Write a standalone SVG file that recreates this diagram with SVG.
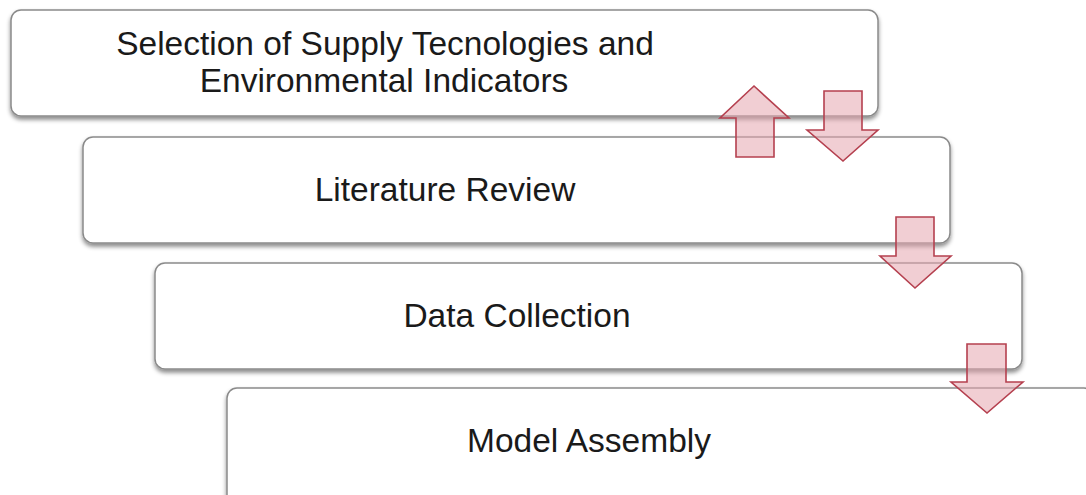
<svg xmlns="http://www.w3.org/2000/svg" width="1086" height="495" viewBox="0 0 1086 495">
  <style>
    .step { fill: #ffffff; stroke: #8a8a8a; stroke-width: 1.5; filter: url(#shadow); }
    .label { font-family: "Liberation Sans", Arial, sans-serif; font-size: 33.5px; fill: #1a1a1a; text-anchor: middle; }
    .arrow { fill: #e6a5ae; fill-opacity: 0.55; stroke: #b5404f; stroke-width: 1.6; stroke-linejoin: miter; }
  </style>
  <defs>
    <filter id="shadow" x="-5%" y="-10%" width="110%" height="130%">
      <feDropShadow dx="0" dy="3" stdDeviation="2.2" flood-color="#000000" flood-opacity="0.45"/>
    </filter>
  </defs>
  <rect width="1086" height="495" fill="#ffffff"/>

  <g id="node-selection">
    <rect class="step" x="11" y="10" width="867" height="106" rx="10"/>
    <text class="label" x="385" y="55">Selection of Supply Tecnologies and</text>
    <text class="label" x="384" y="92">Environmental Indicators</text>
  </g>

  <g id="node-literature">
    <rect class="step" x="83" y="137" width="867" height="106" rx="10"/>
    <text class="label" x="445" y="201">Literature Review</text>
  </g>

  <g id="node-data">
    <rect class="step" x="155" y="263" width="867" height="106" rx="10"/>
    <text class="label" x="517" y="327">Data Collection</text>
  </g>

  <g id="node-model">
    <rect class="step" x="227" y="388" width="867" height="130" rx="10"/>
    <text class="label" x="589" y="452">Model Assembly</text>
  </g>

  <g id="connectors">
    <!-- feedback: literature review back to selection -->
    <polygon class="arrow" points="754,86 789,118 774,118 774,157 736,157 736,118 720,118"/>
    <!-- selection to literature review -->
    <polygon class="arrow" points="824,91 862,91 862,130 878,130 843,161 807,130 824,130"/>
    <!-- literature review to data collection -->
    <polygon class="arrow" points="896,217 934,217 934,256 951,256 915,288 880,256 896,256"/>
    <!-- data collection to model assembly -->
    <polygon class="arrow" points="967,344 1006,344 1006,382 1023,382 987,413 951,382 967,382"/>
  </g>
</svg>
